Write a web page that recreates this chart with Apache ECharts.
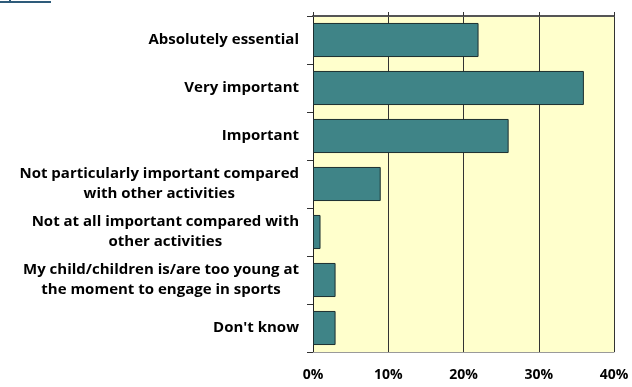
<!DOCTYPE html>
<html>
<head>
<meta charset="utf-8">
<style>html,body{margin:0;padding:0;background:#fff;}#c{width:632px;height:387px;}</style>
<script src="https://cdn.jsdelivr.net/npm/echarts@6/dist/echarts.min.js"></script>
</head>
<body>
<div id="c"></div>
<script>
const categories = [
  "Absolutely essential",
  "Very important",
  "Important",
  "Not particularly important compared\nwith other activities",
  "Not at all important compared with\nother activities",
  "My child/children is/are too young at\nthe moment to engage in sports",
  "Don't know"
];
const values = [22, 36, 26, 9, 1, 3, 3];
const tickLabels = ["0%", "10%", "20%", "30%", "40%"];

const FONT = "'Open Sans', sans-serif";
const chart = echarts.init(document.getElementById('c'), null, {renderer: 'canvas'});
chart.setOption({
  animation: false,
  backgroundColor: '#ffffff',
  graphic: [
    {type: 'rect', left: 0, top: 1, shape: {width: 51, height: 2}, style: {fill: '#2E5B7A'}, silent: true},
    {type: 'rect', left: 9, top: 0, shape: {width: 2, height: 1}, style: {fill: '#2E5B7A'}, silent: true}
  ],
  grid: {left: 313, right: 18, top: 16, bottom: 35, show: true, backgroundColor: '#FFFFCC', borderWidth: 0},
  xAxis: [
    {
      type: 'value', position: 'bottom', min: 0, max: 40, interval: 10,
      axisLine: {show: true, lineStyle: {color: '#9a9a9a', width: 1}},
      axisTick: {show: false},
      splitLine: {show: true, lineStyle: {color: '#333333', width: 1}},
      axisLabel: {
        margin: 16, color: '#000', fontFamily: FONT, fontWeight: 'bold', fontSize: 14,
        formatter: function (v) { return tickLabels[Math.round(v / 10)]; }
      }
    },
    {
      type: 'value', position: 'top', min: 0, max: 40, interval: 10,
      axisLine: {show: true, lineStyle: {color: '#555555', width: 2}},
      axisTick: {show: true, length: 4, lineStyle: {color: '#333', width: 1}},
      splitLine: {show: false},
      axisLabel: {show: false}
    }
  ],
  yAxis: {
    type: 'category', inverse: true, data: categories,
    axisLine: {show: true, lineStyle: {color: '#222', width: 1}},
    axisTick: {show: true, length: 6, lineStyle: {color: '#333'}},
    axisLabel: {
      margin: 14, align: 'right',
      formatter: function (v) {
        return v.split('\n').map(function (s) { return '{c|' + s + '}'; }).join('\n');
      },
      rich: {
        c: {align: 'center', fontFamily: FONT, fontWeight: 'bold', fontSize: 15, color: '#000', lineHeight: 20}
      }
    }
  },
  series: [{
    type: 'bar', data: values, xAxisIndex: 0, barCategoryGap: '29%',
    itemStyle: {color: '#3F8487', borderColor: '#1c2f30', borderWidth: 1}
  }]
});
</script>
</body>
</html>
